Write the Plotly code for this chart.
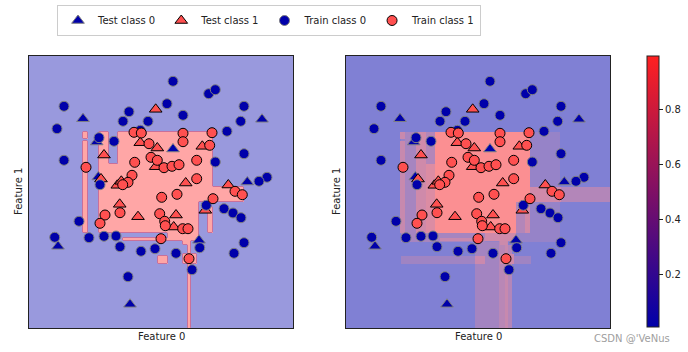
import numpy as np
import plotly.graph_objects as go

# ---------------- data (Feature 0, Feature 1) ----------------
train0_f0 = [0.12, 0.477, 0.543, -0.97, 0.06, 0.83, -0.32, 0.22, -0.38, -0.13, 0.797, -1.04, 0.66, -0.207,
             -0.62, -0.47, -0.97, 0.83, 0.543, 1.06, 0.98, -0.61, 0.453, 0.63, 0.72, 0.80, -0.82, -1.063,
             -0.72, -0.57, -0.45, -0.41, -0.20, -0.06, 0.15, 0.387, 0.83, 0.73, 0.31, -0.33]
train0_f1 = [1.107, 0.983, 1.023, 0.857, 0.883, 0.857, 0.803, 0.767, 0.707, 0.707, 0.707, 0.633, 0.607, 0.617,
             0.543, 0.507, 0.317, 0.383, 0.30, 0.147, 0.107, 0.073, -0.133, -0.167, -0.21, -0.257, -0.293, -0.453,
             -0.457, -0.443, -0.44, -0.547, -0.593, -0.567, -0.613, -0.557, -0.507, -0.613, -0.777, -0.847]

train1_f0 = [-0.27, -0.197, 0.22, 0.22, 0.51, -0.12, 0.487, -0.10, -0.037, -0.263, 0.03, 0.11, 0.18, 0.357,
             -0.75, -0.29, -0.33, -0.383, 0.357, 0.007, 0.16, 0.52, 0.74, 0.813, -0.56, -0.61, -0.41, -0.013,
             0.037, 0.043, 0.217, 0.27, 0.0, 0.28]
train1_f1 = [0.597, 0.59, 0.587, 0.503, 0.593, 0.483, 0.467, 0.347, 0.317, 0.297, 0.243, 0.257, 0.273, 0.317,
             0.247, 0.167, 0.097, 0.073, 0.133, -0.053, -0.023, -0.067, 0.007, -0.027, -0.23, -0.313, -0.207, -0.217,
             -0.293, -0.337, -0.367, -0.367, -0.467, -0.667]

test0_f0 = [-0.78, 1.01, -0.643, 0.12, -0.627, 0.863, -1.03, 0.38, -0.31]
test0_f1 = [0.733, 0.727, 0.50, 0.43, 0.15, 0.10, -0.543, -0.483, -1.123]

test1_f0 = [-0.053, -0.207, -0.037, 0.413, -0.57, -0.053, -0.60, -0.437, -0.397, 0.247, 0.673, -0.413, -0.23,
            0.15, 0.127, 0.443]
test1_f1 = [0.827, 0.493, 0.44, 0.457, 0.37, 0.253, 0.13, 0.067, 0.107, 0.09, 0.07, -0.123, -0.247,
            -0.23, -0.35, -0.183]

# model probability regions (class 1 probability), painted in order
bg_prob = 0.01
reg_x0 = [-0.773, -0.783, -0.783, -0.737, -0.62, -0.52, -0.52, -0.44, 0.52, 0.827, 0.37, 0.463, 0.463,
          -0.773, -0.387, 0.07, -0.773, -0.033, 0.2, 0.27, 0.293, 0.21, -0.04, 0.213]
reg_x1 = [0.817, -0.737, -0.737, -0.62, -0.52, -0.44, -0.44, 0.52, 0.827, 1.32, 0.463, 0.52, 0.52,
          0.07, 0.187, 0.37, 0.523, 0.2, 0.27, 0.293, 0.337, 0.287, 0.07, 0.353]
reg_y0 = [-0.50, -0.41, 0.533, -0.41, -0.41, 0.283, -0.41, -0.41, -0.093, -0.093, -0.41, -0.41, -0.143,
          -0.50, -0.483, -0.483, -0.717, -1.36, -1.36, -1.36, -1.36, -0.527, -0.717, -0.717]
reg_y1 = [0.60, 0.517, 0.60, 0.60, 0.60, 0.607, 0.283, 0.607, 0.057, 0.057, -0.093, -0.143, -0.093,
          -0.41, -0.457, -0.41, -0.633, -0.50, -0.483, -0.483, -0.527, -0.483, -0.633, -0.617]
reg_p = [0.18, 0.56, 0.56, 0.30, 0.62, 0.40, 0.72, 0.96, 0.62, 0.40, 0.40, 0.62, 0.42,
         0.30, 0.55, 0.62, 0.25, 0.28, 0.45, 0.56, 0.40, 0.60, 0.58, 0.62]

cbar_ticks = [0.2, 0.4, 0.6, 0.8]

# ---------------- grid ----------------
xs = np.linspace(-1.32, 1.32, 265)
ys = np.linspace(-1.36, 1.36, 273)
XX, YY = np.meshgrid(xs, ys)
P = np.full(XX.shape, bg_prob)
for x0, x1, y0, y1, p in zip(reg_x0, reg_x1, reg_y0, reg_y1, reg_p):
    m = (XX >= x0) & (XX < x1) & (YY >= y0) & (YY < y1)
    P[m] = p
CLS = (P > 0.5).astype(int)
P = np.round(P, 3)

font = "DejaVu Sans"
BLUE, RED = "#0000aa", "#ff5050"

fig = go.Figure()

# left: decision regions
fig.add_trace(go.Heatmap(x=xs, y=ys, z=CLS, zmin=0, zmax=1, showlegend=False,
                         colorscale=[[0, "#9999dd"], [1, "#ffa6a6"]], showscale=False,
                         hoverinfo="skip", xaxis="x", yaxis="y"))
fig.add_trace(go.Contour(x=xs, y=ys, z=CLS, showscale=False, hoverinfo="skip", showlegend=False,
                         contours=dict(start=0.5, end=0.5, size=1, coloring="none"),
                         line=dict(color="#c8709a", width=1), xaxis="x", yaxis="y"))

# right: probabilities (alpha 0.5 over white)
def blend(c, a=0.5):
    return tuple(round(a * v + (1 - a) * 255) for v in c)

b0 = blend((0, 0, 170)); b1 = blend((255, 32, 32))
fig.add_trace(go.Heatmap(x=xs, y=ys, z=P, zmin=0.007, zmax=0.995, showlegend=False,
                         colorscale=[[0, "rgb(%d,%d,%d)" % b0], [1, "rgb(%d,%d,%d)" % b1]],
                         showscale=False, hoverinfo="skip", xaxis="x2", yaxis="y2"))

# scatter points on both panels
for ax, ay, show in [("x", "y", True), ("x2", "y2", False)]:
    fig.add_trace(go.Scatter(x=test0_f0, y=test0_f1, mode="markers", name="Test class 0",
                             marker=dict(symbol="triangle-up", size=11, color=BLUE,
                                         line=dict(color="grey", width=1)),
                             showlegend=show, xaxis=ax, yaxis=ay))
    fig.add_trace(go.Scatter(x=test1_f0, y=test1_f1, mode="markers", name="Test class 1",
                             marker=dict(symbol="triangle-up", size=11, color=RED,
                                         line=dict(color="black", width=1)),
                             showlegend=show, xaxis=ax, yaxis=ay))
    fig.add_trace(go.Scatter(x=train0_f0, y=train0_f1, mode="markers", name="Train class 0",
                             marker=dict(symbol="circle", size=10, color=BLUE,
                                         line=dict(color="grey", width=1)),
                             showlegend=show, xaxis=ax, yaxis=ay))
    fig.add_trace(go.Scatter(x=train1_f0, y=train1_f1, mode="markers", name="Train class 1",
                             marker=dict(symbol="circle", size=10, color=RED,
                                         line=dict(color="black", width=1)),
                             showlegend=show, xaxis=ax, yaxis=ay))

# colorbar carrier
fig.add_trace(go.Scatter(x=[0], y=[0], mode="markers", showlegend=False, hoverinfo="skip",
                         xaxis="x2", yaxis="y2",
                         marker=dict(size=1, opacity=0, color=[0.5], cmin=0.007, cmax=0.995,
                                     colorscale=[[0, BLUE], [1, "#ff2020"]], showscale=True,
                                     colorbar=dict(x=647 / 688, xanchor="left", xpad=0, ypad=0,
                                                   y=1 - 191.5 / 352, yanchor="middle",
                                                   len=271 / 352, lenmode="fraction", thickness=12,
                                                   outlinewidth=1, outlinecolor="#222",
                                                   tickvals=cbar_ticks, ticks="outside", ticklen=4,
                                                   tickcolor="#222",
                                                   tickfont=dict(size=10, color="#222", family=font)))))

axcommon = dict(showticklabels=False, ticks="", showgrid=False, zeroline=False, showline=True,
                mirror=True, linecolor="#222", linewidth=1, fixedrange=True)
ydom = [1 - 328 / 352, 1 - 56 / 352]
fig.update_layout(
    width=688, height=352, margin=dict(l=0, r=0, t=0, b=0),
    paper_bgcolor="white", plot_bgcolor="white",
    font=dict(family=font, size=10, color="#222"),
    xaxis=dict(domain=[29 / 688, 293 / 688], range=[-1.32, 1.32], **axcommon),
    yaxis=dict(domain=ydom, range=[-1.36, 1.36], **axcommon),
    xaxis2=dict(domain=[346 / 688, 610 / 688], range=[-1.32, 1.32], **axcommon),
    yaxis2=dict(domain=ydom, range=[-1.36, 1.36], anchor="x2", **axcommon),
    legend=dict(orientation="h", x=57 / 688, y=1 - 5 / 352, xanchor="left", yanchor="top",
                bordercolor="#cccccc", borderwidth=1, bgcolor="white",
                font=dict(size=10, family=font, color="#222"), itemwidth=30),
    showlegend=True,
)
fig.layout.xaxis2.anchor = "y2"

ann = [
    dict(text="Feature 0", x=161 / 688, y=1 - 336 / 352),
    dict(text="Feature 0", x=478 / 688, y=1 - 336 / 352),
    dict(text="Feature 1", x=18 / 688, y=1 - 192 / 352, textangle=-90),
    dict(text="Feature 1", x=336 / 688, y=1 - 192 / 352, textangle=-90),
]
for a in ann:
    fig.add_annotation(xref="paper", yref="paper", showarrow=False, xanchor="center", yanchor="middle",
                       font=dict(size=10, family=font, color="#222"), **a)
fig.add_annotation(text="CSDN @'VeNus", xref="paper", yref="paper", x=632 / 688, y=1 - 338 / 352,
                   showarrow=False, xanchor="center", yanchor="middle",
                   font=dict(size=10, family=font, color="#a0a0a0"))

fig.write_html("out.html")
